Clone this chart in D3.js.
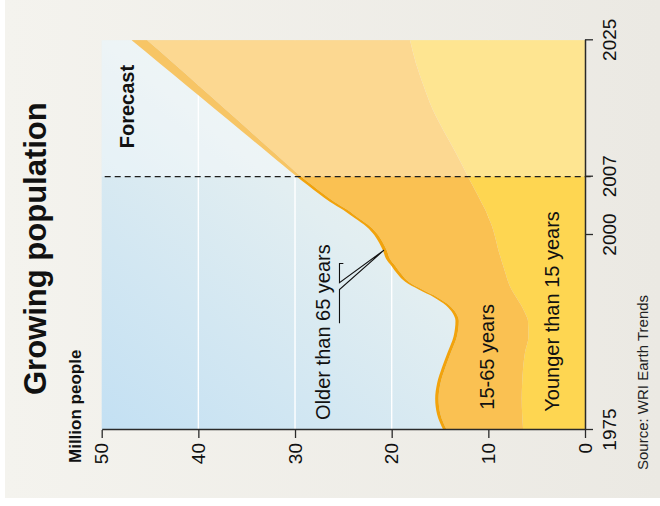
<!DOCTYPE html>
<html>
<head>
<meta charset="utf-8">
<script src="https://cdn.jsdelivr.net/npm/d3@7"></script>
<style>
  html, body { margin: 0; padding: 0; background: #ffffff; }
  svg { display: block; font-family: "Liberation Sans", Arial, Helvetica, sans-serif; }
</style>
</head>
<body>
<svg id="chart" width="660" height="506"></svg>
<script>
// Population by age group, million people
const years = [1975, 1977, 1979, 1981, 1983, 1985, 1987, 1989,
  1990, 1991, 1992, 1993, 1994, 1995, 1996, 1997, 1998, 1999, 2000, 2001, 2002, 2003, 2004, 2005, 2006, 2007,
  2010, 2013, 2016, 2019, 2022, 2025];
const under15 = [6.4, 6.5, 6.55, 6.5, 6.4, 6.2, 5.85, 5.9,
  6.2, 6.6, 7.1, 7.6, 7.95, 8.2, 8.45, 8.7, 8.95, 9.15, 9.35, 9.6, 9.95, 10.3, 10.75, 11.2, 11.65, 12.1,
  13.3, 14.6, 15.8, 16.7, 17.5, 18.1];
const age15to65 = [7.9, 8.45, 8.6, 8.45, 8.05, 7.65, 7.4, 7.15,
  7.15, 7.45, 8.15, 9.25, 10.3, 10.8, 11.15, 11.5, 11.55, 11.75, 12.05, 12.6, 13.45, 14.25, 15.2, 15.95, 16.6, 17.25,
  18.7, 20.05, 21.5, 23.25, 25.1, 27.2];
const over65 = [0.35, 0.35, 0.35, 0.35, 0.35, 0.35, 0.35, 0.35,
  0.35, 0.35, 0.35, 0.35, 0.35, 0.4, 0.4, 0.4, 0.4, 0.4, 0.4, 0.4, 0.4, 0.45, 0.45, 0.45, 0.45, 0.45,
  0.65, 0.85, 1.05, 1.25, 1.45, 1.6];

const yearTicks = [1975, 2000, 2007, 2025];
const valueTicks = [0, 10, 20, 30, 40, 50];
const gridValues = [10, 20, 30, 40];
const forecastStart = 2007;

const groupKeys = ["under15", "age15to65", "over65"];
const groupColors = { under15: "#fed651", age15to65: "#fac152", over65: "#f2a30c" };

// Labels placed in data units: [year, value]
const labels = [
  { text: "Forecast", at: [2010.75, 46.7], bold: true },
  { text: "Older than 65 years", at: [1976.3, 26.4] },
  { text: "15-65 years", at: [1977.6, 9.4] },
  { text: "Younger than 15 years", at: [1977.35, 2.65] }
];
// Callout connecting the "Older than 65 years" label to the curve
const calloutPoints = [[1996.35, 25.0], [1996.35, 25.4], [1993.9, 25.4], [1998.05, 20.8], [1993.0, 25.4], [1988.7, 25.4]];

const rows = years.map((yr, i) => ({ year: yr, under15: under15[i], age15to65: age15to65[i], over65: over65[i] }));

const svg = d3.select("#chart");
const defs = svg.append("defs");

const panelGrad = defs.append("linearGradient").attr("id", "panelGrad")
  .attr("x1", 0).attr("y1", 0).attr("x2", 1).attr("y2", 0);
panelGrad.append("stop").attr("offset", 0).attr("stop-color", "#f4f3ee");
panelGrad.append("stop").attr("offset", 1).attr("stop-color", "#ebe9e3");

const plotGrad = defs.append("linearGradient").attr("id", "plotGrad")
  .attr("x1", 0).attr("y1", 0).attr("x2", 1).attr("y2", 1);
plotGrad.append("stop").attr("offset", 0).attr("stop-color", "#c3e0f3");
plotGrad.append("stop").attr("offset", 0.5).attr("stop-color", "#e2eef1");
plotGrad.append("stop").attr("offset", 1).attr("stop-color", "#f4f6ee");

// Outer panel
svg.append("rect").attr("x", 5).attr("y", 0).attr("width", 655).attr("height", 498)
  .attr("fill", "url(#panelGrad)");

// Chart is laid out with time running along x, then turned a quarter turn
const W = 389.7, H = 483.3;
const x = d3.scaleLinear().domain(yearTicks).range([0, 195, 253.3, W]);
const y = d3.scaleLinear().domain([0, 50]).range([H, 0]);

const g = svg.append("g").attr("transform", "translate(101.7,430) rotate(-90)");

g.append("rect").attr("x", 0).attr("y", 0).attr("width", W).attr("height", H)
  .attr("fill", "url(#plotGrad)");

g.append("g").selectAll("line").data(gridValues).join("line")
  .attr("x1", 0).attr("x2", W)
  .attr("y1", d => y(d)).attr("y2", d => y(d))
  .attr("stroke", "#ffffff").attr("stroke-width", 1.4);

const series = d3.stack().keys(groupKeys)(rows);
const area = d3.area()
  .x(d => x(d.data.year))
  .y0(d => y(d[0]))
  .y1(d => y(d[1]))
  .curve(d3.curveMonotoneX);

g.append("g").selectAll("path").data(series).join("path")
  .attr("d", area)
  .attr("fill", s => groupColors[s.key]);

// Forecast period is shown washed out
g.append("rect")
  .attr("x", x(forecastStart)).attr("y", 0)
  .attr("width", W - x(forecastStart)).attr("height", H)
  .attr("fill", "#ffffff").attr("opacity", 0.37);

g.append("line")
  .attr("x1", x(forecastStart)).attr("x2", x(forecastStart))
  .attr("y1", 3).attr("y2", H + 8)
  .attr("stroke", "#1e1e1e").attr("stroke-width", 1.3)
  .attr("stroke-dasharray", "6,4");

// Axes
const valueAxis = g.append("g")
  .call(d3.axisLeft(y).tickValues(valueTicks).tickSize(8).tickPadding(5).tickSizeOuter(0));
const yearAxis = g.append("g").attr("transform", `translate(0,${H})`)
  .call(d3.axisBottom(x).tickValues(yearTicks).tickFormat(d3.format("d")).tickSize(8).tickPadding(10).tickSizeOuter(0));

[valueAxis, yearAxis].forEach(ax => {
  ax.select(".domain").attr("stroke", "#2a2a2a").attr("stroke-width", 1.5);
  ax.selectAll(".tick line").attr("stroke", "#2a2a2a").attr("stroke-width", 1.3);
  ax.selectAll(".tick text").attr("fill", "#111").attr("font-size", 19)
    .attr("font-family", "'Liberation Sans', Arial, Helvetica, sans-serif");
});

// Labels
g.append("g").selectAll("text").data(labels).join("text")
  .attr("x", d => x(d.at[0])).attr("y", d => y(d.at[1]))
  .attr("font-size", 20)
  .attr("font-weight", d => d.bold ? "bold" : "normal")
  .attr("fill", "#111")
  .text(d => d.text);

g.append("path")
  .attr("d", d3.line().x(p => x(p[0])).y(p => y(p[1]))(calloutPoints))
  .attr("fill", "none").attr("stroke", "#111").attr("stroke-width", 1.1);

// Titles and source
svg.append("text").attr("transform", "translate(45.5,395) rotate(-90)")
  .attr("font-size", 31).attr("font-weight", "bold").attr("fill", "#111")
  .text("Growing population");
svg.append("text").attr("transform", "translate(80.5,463) rotate(-90)")
  .attr("font-size", 17).attr("font-weight", "bold").attr("fill", "#111")
  .text("Million people");
svg.append("text").attr("transform", "translate(648,470) rotate(-90)")
  .attr("font-size", 15).attr("fill", "#222")
  .text("Source: WRI Earth Trends");
</script>
</body>
</html>
